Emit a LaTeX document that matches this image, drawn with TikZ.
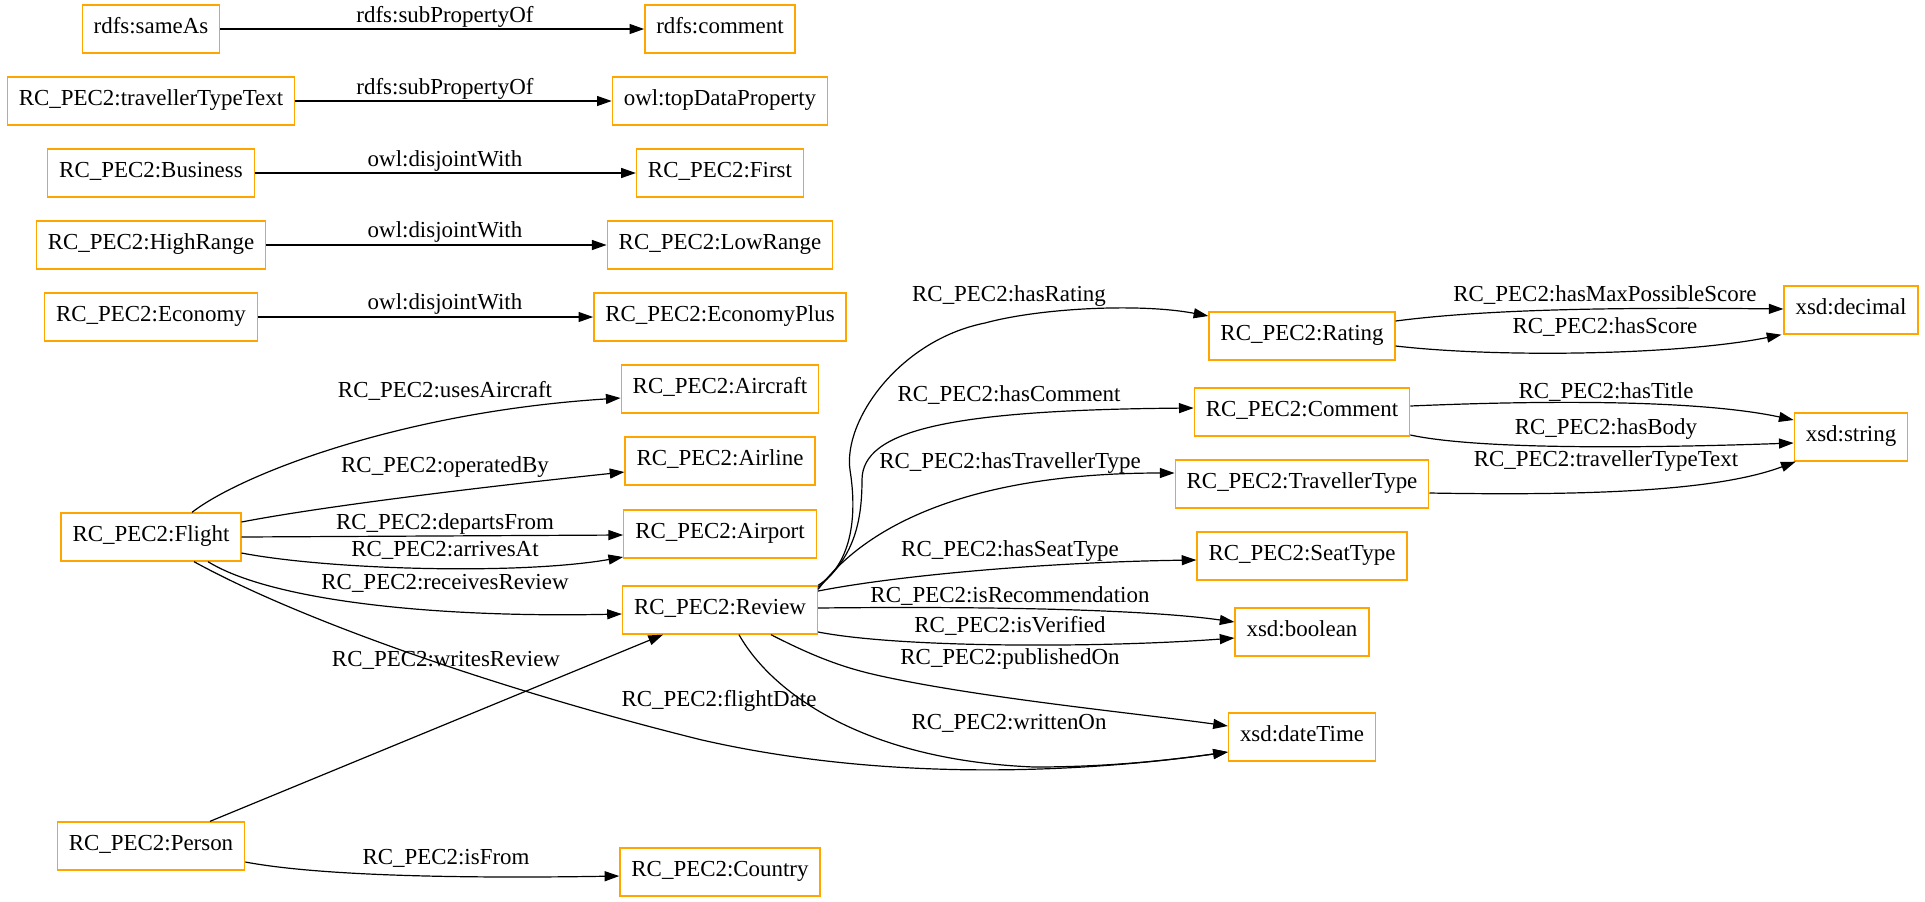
\documentclass[tikz,border=0pt]{standalone}
\usepackage{fontspec}
\setmainfont{Liberation Serif}
\usetikzlibrary{arrows.meta,calc}
\definecolor{gvorange}{HTML}{FFA500}
\newcommand{\gvfont}{\fontsize{17.2pt}{20pt}\selectfont}
\begin{document}
\begin{tikzpicture}[x=0.75pt,y=-0.75pt,
  box/.style={draw=gvorange,line width=1pt,minimum height=36pt,inner xsep=8.6pt,inner ysep=0pt,font=\gvfont,text height=0.66em,text depth=0pt},
  lbl/.style={inner sep=0pt,font=\gvfont,text height=0.66em,text depth=0pt},
  edge/.style={draw=black,line width=0.9pt,-{Triangle[length=11pt,width=7.5pt]}}]
\fill[white] (0,0) rectangle (1925,901);
\useasboundingbox (0,0) rectangle (1925,901);
% column 1
\node[box] (sameas) at (151,29) {rdfs:sameAs};
\node[box] (tttext) at (151,101) {RC\_PEC2:travellerTypeText};
\node[box] (business) at (151,173) {RC\_PEC2:Business};
\node[box] (highrange) at (151,245) {RC\_PEC2:HighRange};
\node[box] (economy) at (151,317) {RC\_PEC2:Economy};
\node[box] (flight) at (151,537) {RC\_PEC2:Flight};
\node[box] (person) at (151,846) {RC\_PEC2:Person};
% column 2
\node[box] (comment) at (720,29) {rdfs:comment};
\node[box] (topdp) at (720,101) {owl:topDataProperty};
\node[box] (first) at (720,173) {RC\_PEC2:First};
\node[box] (lowrange) at (720,245) {RC\_PEC2:LowRange};
\node[box] (economyplus) at (720,317) {RC\_PEC2:EconomyPlus};
\node[box] (aircraft) at (720,389) {RC\_PEC2:Aircraft};
\node[box] (airline) at (720,461) {RC\_PEC2:Airline};
\node[box] (airport) at (720,534) {RC\_PEC2:Airport};
\node[box] (review) at (720,610) {RC\_PEC2:Review};
\node[box] (country) at (720,872) {RC\_PEC2:Country};
% column 3
\node[box] (rating) at (1302,336) {RC\_PEC2:Rating};
\node[box] (commentc) at (1302,412) {RC\_PEC2:Comment};
\node[box] (travtype) at (1302,484) {RC\_PEC2:TravellerType};
\node[box] (seattype) at (1302,556) {RC\_PEC2:SeatType};
\node[box] (boolean) at (1302,632) {xsd:boolean};
\node[box] (datetime) at (1302,737) {xsd:dateTime};
% column 4
\node[box] (decimal) at (1851,310) {xsd:decimal};
\node[box] (string) at (1851,437) {xsd:string};

% top edges
\draw[edge] (sameas.east) -- (comment.west);
\node[lbl] (l1) at (445,18) {rdfs:subPropertyOf};
\draw[edge] (tttext.east) -- (topdp.west);
\node[lbl] (l2) at (445,90) {rdfs:subPropertyOf};
\draw[edge] (business.east) -- (first.west);
\node[lbl] (l3) at (445,162) {owl:disjointWith};
\draw[edge] (highrange.east) -- (lowrange.west);
\node[lbl] (l4) at (445,233) {owl:disjointWith};
\draw[edge] (economy.east) -- (economyplus.west);
\node[lbl] (l5) at (445,305) {owl:disjointWith};

% flight edges
\draw[edge] ($(flight.north)+(41,0)$) .. controls (240,475) and (400,412) .. ($(aircraft.west)+(0,9)$);
\node[lbl] (l6) at (445,393) {RC\_PEC2:usesAircraft};
\draw[edge] ($(flight.east)+(0,-15)$) .. controls (330,505) and (500,485) .. ($(airline.west)+(0,11)$);
\node[lbl] (l7) at (445,468) {RC\_PEC2:operatedBy};
\draw[edge] (flight.east) -- ($(airport.west)+(0,1)$);
\node[lbl] (l8) at (445,525) {RC\_PEC2:departsFrom};
\draw[edge] ($(flight.east)+(0,16)$) .. controls (330,570) and (520,575) .. ($(airport.west)+(0,23)$);
\node[lbl] (l9) at (445,552) {RC\_PEC2:arrivesAt};
\draw[edge] ($(flight.south)+(57,0)$) .. controls (270,600) and (430,618) .. ($(review.west)+(0,4)$);
\node[lbl] (l10) at (445,585) {RC\_PEC2:receivesReview};
\draw[edge] ($(flight.south)+(43,0)$) .. controls (300,620) and (500,690) .. (702,740) .. controls (900,785) and (1100,770) .. ($(datetime.west)+(0,15)$);
\node[lbl] (l11) at (719,702) {RC\_PEC2:flightDate};

% person edges
\draw[edge] ($(person.north)+(59,0)$) -- ($(review.south)+(-57,0)$);
\node[lbl] (l12) at (446,662) {RC\_PEC2:writesReview};
\draw[edge] ($(person.east)+(0,16)$) .. controls (330,878) and (500,878) .. ($(country.west)+(0,4)$);
\node[lbl] (l13) at (446,860) {RC\_PEC2:isFrom};

% review edges
\draw[edge] (review.north east) .. controls (850,565) and (858,520) .. (850,470) .. controls (843,420) and (900,340) .. (985,323) .. controls (1040,308) and (1140,303) .. ($(rating.west)+(0,-20)$);
\node[lbl] (l14) at (1009,297) {RC\_PEC2:hasRating};
\draw[edge] ($(review.north east)+(0,2)$) .. controls (850,560) and (862,530) .. (862,480) .. controls (862,430) and (950,410) .. ($(commentc.west)+(0,-4)$);
\node[lbl] (l15) at (1009,397) {RC\_PEC2:hasComment};
\draw[edge] ($(review.north east)+(0,4)$) .. controls (870,520) and (980,473) .. ($(travtype.west)+(0,-11)$);
\node[lbl] (l16) at (1010,464) {RC\_PEC2:hasTravellerType};
\draw[edge] ($(review.east)+(0,-19)$) .. controls (900,575) and (1050,562) .. ($(seattype.west)+(0,4)$);
\node[lbl] (l17) at (1010,552) {RC\_PEC2:hasSeatType};
\draw[edge] ($(review.east)+(0,-2)$) .. controls (1000,606) and (1150,610) .. ($(boolean.west)+(0,-10)$);
\node[lbl] (l18) at (1010,598) {RC\_PEC2:isRecommendation};
\draw[edge] ($(review.east)+(0,22)$) .. controls (900,648) and (1100,648) .. ($(boolean.west)+(0,6)$);
\node[lbl] (l19) at (1010,628) {RC\_PEC2:isVerified};
\draw[edge] ($(review.south)+(51,0)$) .. controls (830,665) and (860,672) .. (900,680) .. controls (1000,700) and (1150,715) .. ($(datetime.west)+(0,-11)$);
\node[lbl] (l20) at (1010,660) {RC\_PEC2:publishedOn};
\draw[edge] ($(review.south)+(19,0)$) .. controls (770,690) and (860,760) .. (1034,767) .. controls (1110,767) and (1170,760) .. ($(datetime.west)+(0,15)$);
\node[lbl] (l21) at (1009,725) {RC\_PEC2:writtenOn};

% column 3 -> 4
\draw[edge] ($(rating.east)+(0,-15)$) .. controls (1480,310) and (1600,307) .. ($(decimal.west)+(0,-1)$);
\node[lbl] (l22) at (1605,297) {RC\_PEC2:hasMaxPossibleScore};
\draw[edge] ($(rating.east)+(0,10)$) .. controls (1500,358) and (1680,355) .. ($(decimal.south west)+(-2,0)$);
\node[lbl] (l23) at (1605,329) {RC\_PEC2:hasScore};
\draw[edge] ($(commentc.east)+(0,-6)$) .. controls (1550,400) and (1700,400) .. ($(string.west)+(0,-17)$);
\node[lbl] (l24) at (1606,394) {RC\_PEC2:hasTitle};
\draw[edge] ($(commentc.east)+(0,23)$) .. controls (1480,450) and (1650,448) .. ($(string.west)+(0,6)$);
\node[lbl] (l25) at (1606,430) {RC\_PEC2:hasBody};
\draw[edge] ($(travtype.east)+(0,9)$) .. controls (1600,496) and (1720,490) .. ($(string.south west)+(2,0)$);
\node[lbl] (l26) at (1606,462) {RC\_PEC2:travellerTypeText};
\end{tikzpicture}
\end{document}
